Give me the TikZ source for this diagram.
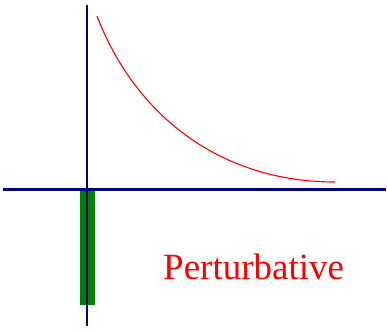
\documentclass[tikz,border=0pt]{standalone}
\usepackage{fontspec}
\setmainfont{Liberation Serif}
\usetikzlibrary{positioning}
\definecolor{axisblue}{RGB}{0,0,128}
\definecolor{bargreen}{RGB}{0,128,0}
\tikzstyle{axis}=[draw=axisblue, line width=2.3pt]
\tikzstyle{curve}=[draw=red, line width=1.1pt]
\tikzstyle{lbl}=[text=red, font=\fontsize{37}{40}\selectfont, inner sep=0pt]

\begin{document}
\begin{tikzpicture}[x=1pt, y=-1pt]
    \useasboundingbox (0,0) rectangle (387,330);
    \fill[bargreen] (80,190) rectangle (95,305);
    \coordinate (xl) at (3,189.5);  \coordinate (xr) at (386,189.5);
    \coordinate (yt) at (87,5);     \coordinate (yb) at (87,326);
    \draw[axis] (xl)--(xr);
    \draw[axis] (yt)--(yb);
    \coordinate (cs) at (97,16);  \coordinate (ce) at (335,182);
    \draw[curve] (cs) .. controls (135,115) and (220,182) .. (ce);
    \node[lbl, anchor=base west] (pert) at (163,279) {Perturbative};
  \end{tikzpicture}
\end{document}
